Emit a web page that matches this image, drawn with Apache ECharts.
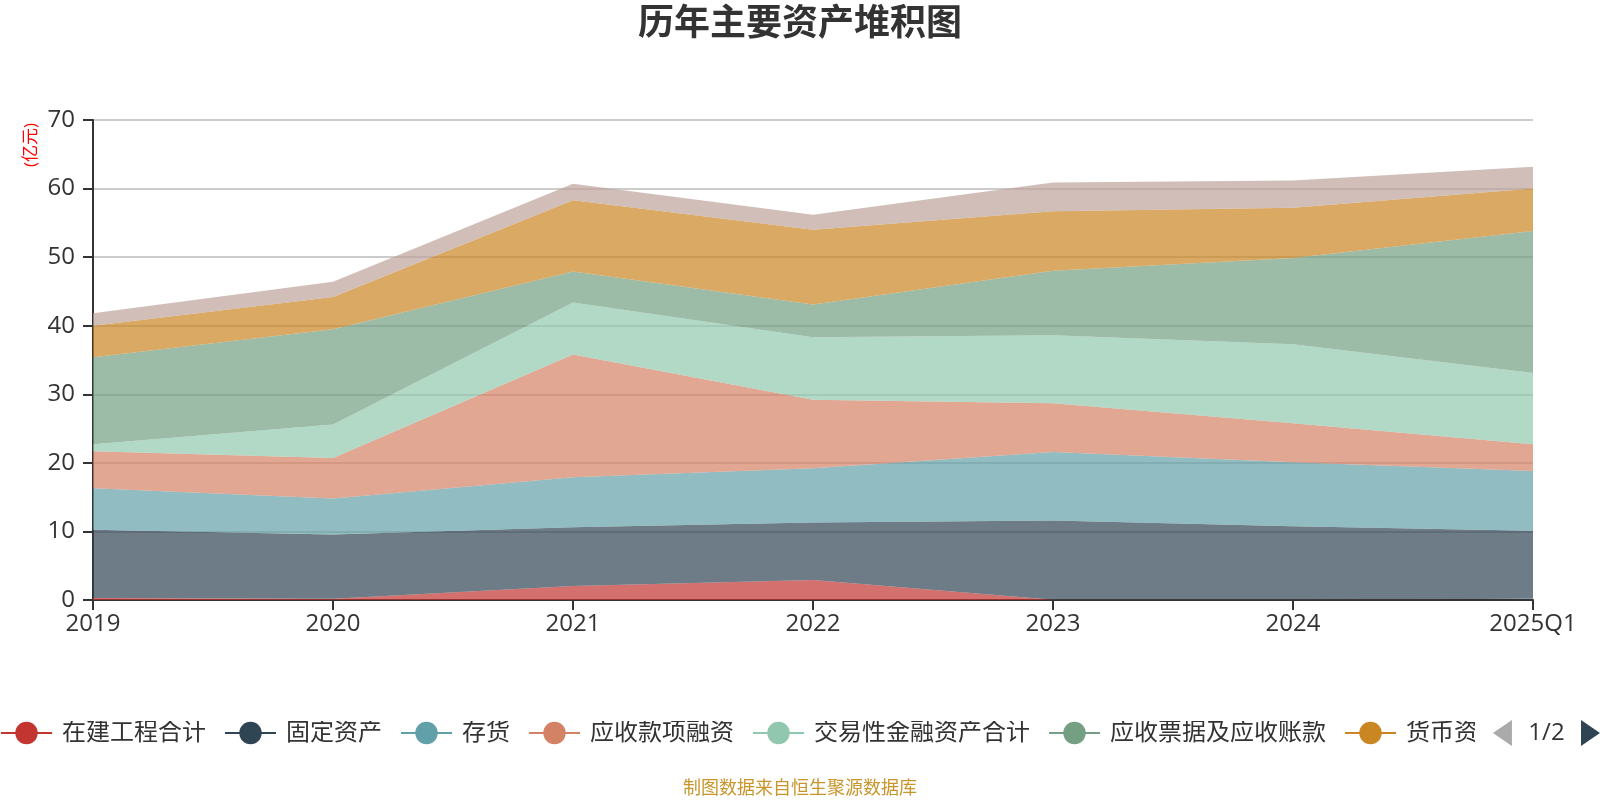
<!DOCTYPE html>
<html>
<head>
<meta charset="utf-8">
<script src="https://cdn.jsdelivr.net/npm/echarts@6/dist/echarts.min.js"></script>
<style>html,body{margin:0;padding:0;background:#fff}#c{width:1600px;height:800px}</style>
</head>
<body>
<div id="c"></div>
<script>
var categories = ['2019','2020','2021','2022','2023','2024','2025Q1'];
var yTicks = [0,10,20,30,40,50,60,70];
var s_zaijian   = [0.3, 0.2, 2.05, 2.93, 0.05, 0.05, 0.2];
var s_guding    = [9.95, 9.37, 8.55, 8.37, 11.55, 10.7, 9.9];
var s_cunhuo    = [6.05, 5.23, 7.3, 7.9, 10.0, 9.34, 8.7];
var s_rongzi    = [5.4, 5.9, 17.9, 10.0, 7.1, 5.7, 3.9];
var s_jiaoyi    = [1.0, 4.9, 7.6, 9.1, 9.9, 11.5, 10.4];
var s_yingshou  = [12.7, 13.9, 4.5, 4.8, 9.4, 12.6, 20.7];
var s_huobi     = [4.6, 4.7, 10.4, 10.9, 8.7, 7.3, 6.2];
var s_other     = [1.8, 2.2, 2.4, 2.2, 4.2, 4.0, 3.2];
var seriesNames = ['在建工程合计','固定资产','存货','应收款项融资','交易性金融资产合计','应收票据及应收账款','货币资金','无形资产'];
var seriesData = [s_zaijian, s_guding, s_cunhuo, s_rongzi, s_jiaoyi, s_yingshou, s_huobi, s_other];
var colors = ['#c23531','#2f4554','#61a0a8','#d48265','#91c7ae','#749f83','#ca8622','#bda29a'];

var FONT = "'Open Sans','Noto Sans CJK SC',sans-serif";
var chart = echarts.init(document.getElementById('c'));
chart.setOption({
  color: colors,
  textStyle: {fontFamily: FONT},
  title: [{
    text: '历年主要资产堆积图', left: 'center', top: 2,
    textStyle: {fontSize: 36, fontWeight: 'bold', color: '#333', fontFamily: FONT}
  }, {
    text: '制图数据来自恒生聚源数据库', left: 'center', top: 775,
    textStyle: {fontSize: 18, fontWeight: 'normal', color: '#c8952a', fontFamily: FONT}
  }],
  graphic: [{
    type: 'text', x: 31, y: 145, rotation: Math.PI / 2,
    style: {text: '(亿元)', fill: '#ff0000', fontSize: 17, fontFamily: FONT, textAlign: 'center', textVerticalAlign: 'middle'}
  }],
  legend: {
    type: 'scroll', left: 0, right: 0, top: 720, padding: 0,
    itemWidth: 51, itemHeight: 28, itemGap: 18,
    lineStyle: {width: 2},
    textStyle: {fontSize: 24, color: '#333', fontFamily: FONT, padding: [0, 0, 0, 5]},
    pageIcons: {horizontal: ['path://M0,13L19,0L19,26z', 'path://M0,0L19,13L0,26z']},
    pageIconSize: [19, 26], pageButtonItemGap: 5,
    pageIconColor: '#2f4554', pageIconInactiveColor: '#aaa',
    pageTextStyle: {fontSize: 24, color: '#333', fontFamily: FONT},
    data: seriesNames
  },
  grid: {left: 93, right: 67, top: 120, bottom: 200},
  xAxis: {
    type: 'category', boundaryGap: false, data: categories,
    axisLine: {lineStyle: {color: '#333', width: 2}},
    axisTick: {length: 10, lineStyle: {color: '#333', width: 2}},
    axisLabel: {fontSize: 24, color: '#333', margin: 12, fontFamily: FONT}
  },
  yAxis: {
    type: 'value', min: yTicks[0], max: yTicks[yTicks.length - 1], interval: 10,
    axisLine: {show: true, lineStyle: {color: '#333', width: 2}},
    axisTick: {show: true, length: 10, lineStyle: {color: '#333', width: 2}},
    axisLabel: {fontSize: 24, color: '#333', margin: 18, fontFamily: FONT},
    splitLine: {lineStyle: {color: '#ccc', width: 2}}
  },
  series: seriesNames.map(function (n, i) {
    return {
      name: n, type: 'line', stack: 'total', data: seriesData[i],
      symbol: 'circle', showSymbol: false, silent: true,
      lineStyle: {width: 0},
      areaStyle: {opacity: 0.7},
      emphasis: {disabled: true}
    };
  })
});
</script>
</body>
</html>
